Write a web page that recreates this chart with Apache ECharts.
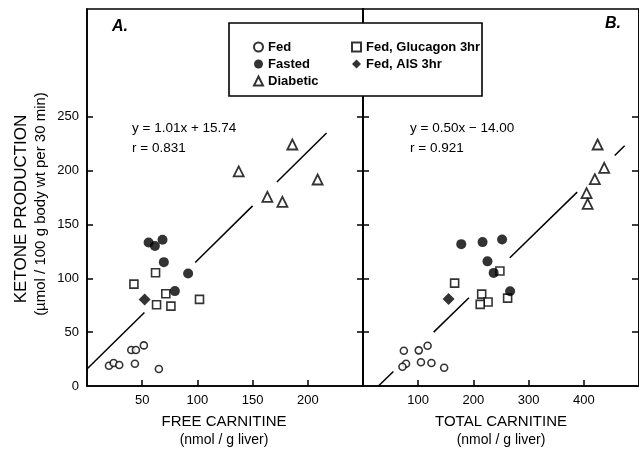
<!DOCTYPE html>
<html><head><meta charset="utf-8">
<script src="https://cdn.jsdelivr.net/npm/echarts@6/dist/echarts.min.js"></script>
<style>html,body{margin:0;padding:0;background:#fff}#c{width:639px;height:453px}</style>
</head><body><div id="c"></div>
<script>
// ---- Panel A: free carnitine (nmol/g liver) vs ketone production ----
const fedA       = [[19.9,18.8],[24.1,21.3],[29.2,19.5],[40.1,33.4],[44.3,33.4],[51.5,37.7],[43.4,20.7],[65.1,15.8]];
const fastedA    = [[55.8,133.3],[61.5,129.9],[68.4,135.7],[69.6,115],[91.6,104.5],[79.6,88.1]];
const diabeticA  = [[186,224.2],[137.4,199.2],[208.9,191.7],[163.4,175.6],[177,171]];
const glucagonA  = [[42.5,94.6],[62.1,105.1],[71.4,85.6],[63,75.4],[76,74.2],[101.9,80.4]];
const aisA       = [[52.2,80.4]];
// ---- Panel B: total carnitine (nmol/g liver) vs ketone production ----
const fedB       = [[74,32.7],[101,33.1],[117,37.4],[78,20.7],[71.5,17.9],[105,22],[124,21.3],[147,17]];
const fastedB    = [[178,131.7],[216.6,133.6],[252,136],[225.5,115.7],[236.7,105],[266.5,88]];
const diabeticB  = [[425,224.2],[437,202.5],[420,192],[405,179],[407,169]];
const glucagonB  = [[166,95.5],[248,106.7],[215,85.3],[226.6,78],[212.3,75.8],[262,81.6]];
const aisB       = [[155,80.7]];
// ---- regression lines (equations printed on the chart) and drawn segments ----
const fitA = {slope: 1.01, intercept: 15.74};
const fitB = {slope: 0.50, intercept: -14.00};
const segmentsA = [[0,52],[98,150],[172,217]];
const segmentsB = [[28,55],[128,192],[266,388],[456,474]];
// ---- ticks ----
const xTicksA = [50,100,150,200];
const xTicksB = [100,200,300,400];
const yTicks  = [0,50,100,150,200,250];
const yCross  = [50,100,150,200,250];

const FONT = '"Liberation Sans", Arial, sans-serif';
const chart = echarts.init(document.getElementById('c'), null, {renderer:'canvas'});

const open = (sym, size, bw) => ({type:'scatter', symbol:sym, symbolSize:size,
  itemStyle:{color:'#fff', borderColor:'#000', borderWidth:bw}, z:3});
const solid = (sym, size) => ({type:'scatter', symbol:sym, symbolSize:size,
  itemStyle:{color:'#000', borderColor:'#000', borderWidth:0}, z:4});

const groups = [
  {name:'Fed', st:open('circle',7,1.6), A:fedA, B:fedB},
  {name:'Fasted', st:solid('circle',10), A:fastedA, B:fastedB},
  {name:'Diabetic', st:open('triangle',10,1.8), A:diabeticA, B:diabeticB},
  {name:'Fed, Glucagon 3hr', st:open('rect',8,1.6), A:glucagonA, B:glucagonB},
  {name:'Fed, AIS 3hr', st:solid('diamond',12), A:aisA, B:aisB}
];
const series = [];
groups.forEach(g => {
  series.push(Object.assign({}, g.st, {name:g.name, xAxisIndex:0, yAxisIndex:0, data:g.A}));
  series.push(Object.assign({}, g.st, {name:g.name, xAxisIndex:1, yAxisIndex:2, data:g.B}));
});
function addLine(fit, segs, xi, yi) {
  segs.forEach(s => series.push({type:'line', xAxisIndex:xi, yAxisIndex:yi, showSymbol:false, silent:true,
    lineStyle:{color:'#000', width:1.5}, z:2,
    data: s.map(x => [x, fit.slope * x + fit.intercept])}));
}
addLine(fitA, segmentsA, 0, 0);
addLine(fitB, segmentsB, 1, 2);

const axLine = {show:true, lineStyle:{color:'#000', width:1.6}};
const lbl = {color:'#000', fontSize:13, fontFamily:FONT};
const txt = (x, y, text, font, align, vAlign, extra) => Object.assign({type:'text', x, y, z:10,
  style:{text, font, fill:'#000', textAlign:align||'left', textVerticalAlign:vAlign||'middle'}}, extra||{});
const legText = {fontSize:13, fontWeight:'bold', fontFamily:FONT, color:'#000', lineHeight:16};

chart.setOption({
  animation:false,
  backgroundColor:'#fff',
  grid:[
    {left:87, top:9, width:276, height:377, show:true, borderColor:'#000', borderWidth:1.6, backgroundColor:'transparent'},
    {left:363, top:9, width:279, height:377, show:true, borderColor:'#000', borderWidth:1.6, backgroundColor:'transparent'}
  ],
  xAxis:[
    {type:'value', gridIndex:0, min:0, max:250, interval:50, axisLine:axLine,
     axisTick:{show:true, inside:true, length:6, customValues:xTicksA, lineStyle:{color:'#000', width:1.5}},
     axisLabel:Object.assign({customValues:xTicksA, margin:8}, lbl), splitLine:{show:false}},
    {type:'value', gridIndex:1, min:0, max:500, interval:100, axisLine:axLine,
     axisTick:{show:true, inside:true, length:6, customValues:xTicksB, lineStyle:{color:'#000', width:1.5}},
     axisLabel:Object.assign({customValues:xTicksB, margin:8}, lbl), splitLine:{show:false}}
  ],
  yAxis:[
    {type:'value', gridIndex:0, min:0, max:350, interval:50, position:'left', axisLine:axLine,
     axisTick:{show:true, inside:true, length:6, customValues:yCross, lineStyle:{color:'#000', width:1.5}},
     axisLabel:Object.assign({customValues:yTicks, margin:8}, lbl), splitLine:{show:false}},
    {type:'value', gridIndex:0, min:0, max:350, interval:50, position:'right', axisLine:axLine,
     axisTick:{show:true, inside:false, length:6, customValues:yCross, lineStyle:{color:'#000', width:1.5}},
     axisLabel:{show:false}, splitLine:{show:false}},
    {type:'value', gridIndex:1, min:0, max:350, interval:50, position:'left', axisLine:axLine,
     axisTick:{show:true, inside:false, length:6, customValues:yCross, lineStyle:{color:'#000', width:1.5}},
     axisLabel:{show:false}, splitLine:{show:false}},
    {type:'value', gridIndex:1, min:0, max:350, interval:50, position:'right', axisLine:axLine,
     axisTick:{show:true, inside:true, length:7, customValues:yCross, lineStyle:{color:'#000', width:1.5}},
     axisLabel:{show:false}, splitLine:{show:false}}
  ],
  legend:[
    {data:['Fed','Fasted','Diabetic'], orient:'vertical', left:248, top:34, itemWidth:9, itemHeight:9,
     itemGap:1, selectedMode:false, z:12, textStyle:legText},
    {data:['Fed, Glucagon 3hr','Fed, AIS 3hr'], orient:'vertical', left:346, top:34, itemWidth:9, itemHeight:9,
     itemGap:1, selectedMode:false, z:12, textStyle:legText}
  ],
  graphic:[
    {type:'rect', z:11, shape:{x:229, y:23, width:253, height:73},
     style:{fill:'#fff', stroke:'#000', lineWidth:1.6}},
    txt(112, 27, 'A.', 'italic bold 16px ' + FONT),
    txt(605, 24, 'B.', 'italic bold 16px ' + FONT),
    txt(132, 128, 'y = 1.01x + 15.74', '13.5px ' + FONT),
    txt(132, 148, 'r = 0.831', '13.5px ' + FONT),
    txt(410, 128, 'y = 0.50x − 14.00', '13.5px ' + FONT),
    txt(410, 148, 'r = 0.921', '13.5px ' + FONT),
    txt(224, 422, 'FREE CARNITINE', '15px ' + FONT, 'center'),
    txt(224, 440, '(nmol / g liver)', '14px ' + FONT, 'center'),
    txt(501, 422, 'TOTAL CARNITINE', '15px ' + FONT, 'center'),
    txt(501, 440, '(nmol / g liver)', '14px ' + FONT, 'center'),
    txt(21, 209, 'KETONE PRODUCTION', '17px ' + FONT, 'center', 'middle', {rotation:Math.PI/2}),
    txt(41, 204, '(µmol / 100 g body wt per 30 min)', '15px ' + FONT, 'center', 'middle', {rotation:Math.PI/2})
  ],
  series
});
</script></body></html>
